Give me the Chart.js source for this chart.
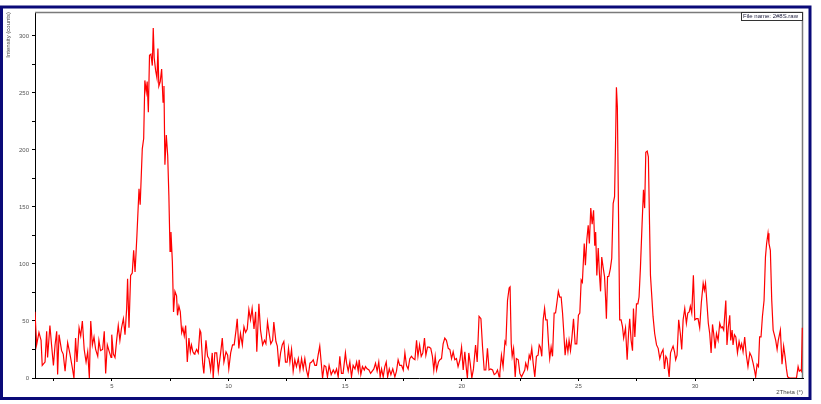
<!DOCTYPE html>
<html>
<head>
<meta charset="utf-8">
<script src="https://cdn.jsdelivr.net/npm/chart.js@4.4.1/dist/chart.umd.min.js"></script>
<style>
  html, body { margin: 0; padding: 0; background: #ffffff; }
  canvas { display: block; }
</style>
</head>
<body>
<canvas id="c" width="821" height="404"></canvas>
<script>
const legendLabel = 'File name: 2#8S.raw';
const xTitle = '2Theta (°)';
const yTitle = 'Intensity (counts)';
const xTickValues = [2.5, 5, 7.5, 10, 12.5, 15, 17.5, 20, 22.5, 25, 27.5, 30, 32.5];
const yTickValues = [0, 25, 50, 75, 100, 125, 150, 175, 200, 225, 250, 275, 300];

const twoTheta = [
  1.70,1.77,1.87,1.96,2.01,2.13,2.20,2.24,2.34,2.41,
  2.49,2.56,2.63,2.67,2.73,2.84,2.91,2.99,3.10,3.20,
  3.30,3.37,3.44,3.50,3.59,3.66,3.73,3.81,3.89,3.96,
  4.03,4.09,4.16,4.23,4.30,4.39,4.44,4.51,4.60,4.67,
  4.73,4.80,4.87,4.96,4.99,5.06,5.13,5.20,5.27,5.34,
  5.41,5.49,5.56,5.63,5.67,5.73,5.80,5.87,5.93,5.99,
  6.07,6.16,6.21,6.30,6.36,6.41,6.47,6.51,6.56,6.61,
  6.67,6.73,6.77,6.81,6.87,6.93,6.97,7.01,7.07,7.13,
  7.19,7.23,7.27,7.33,7.39,7.44,7.49,7.53,7.59,7.64,
  7.70,7.77,7.81,7.87,7.93,7.99,8.04,8.10,8.16,8.23,
  8.30,8.36,8.41,8.47,8.53,
  8.56,8.63,8.70,8.77,8.81,8.89,8.94,9.03,9.10,9.16,
  9.23,9.30,9.34,9.41,9.49,9.56,9.66,9.73,9.80,9.89,
  9.96,10.01,10.09,10.17,10.24,10.32,10.37,10.44,10.51,10.59,
  10.66,10.73,10.80,10.87,10.94,11.01,11.09,11.16,11.21,11.30,
  11.37,11.46,11.54,11.60,11.67,11.74,11.81,11.89,11.94,12.03,
  12.09,12.16,12.23,12.30,12.37,12.44,12.51,12.57,12.63,12.70,
  12.77,12.84,12.91,12.99,13.06,13.13,13.20,13.27,13.34,13.41,
  13.49,13.56,13.63,13.70,13.77,13.84,13.91,13.97,14.03,14.10,
  14.17,14.24,14.31,14.40,14.49,14.56,14.63,14.70,14.77,14.84,
  14.91,15.01,15.06,15.13,
  15.20,15.27,15.34,15.42,15.49,15.56,15.60,15.67,15.74,15.82,
  15.87,15.94,16.02,16.09,16.16,16.23,16.30,16.37,16.44,16.50,
  16.56,16.63,16.70,16.76,16.82,16.89,16.96,17.04,17.13,17.20,
  17.27,17.34,17.42,17.49,17.56,17.63,17.70,17.77,17.84,17.92,
  17.99,18.06,18.12,18.19,18.26,18.33,18.40,18.46,18.53,18.60,
  18.67,18.74,18.80,18.86,18.92,19.00,19.06,19.13,19.20,19.27,
  19.34,19.42,19.49,19.56,19.63,19.70,19.77,19.84,19.92,19.99,
  20.06,20.13,20.20,20.24,20.30,20.36,20.43,20.50,20.59,20.66,
  20.74,20.82,20.89,20.96,21.03,21.10,21.17,21.24,21.32,21.39,
  21.46,21.53,21.60,
  21.63,21.70,21.77,21.85,21.89,21.96,22.03,22.07,22.12,22.16,
  22.22,22.29,22.34,22.42,22.49,22.56,22.63,22.70,22.74,22.82,
  22.89,22.94,23.00,23.06,23.13,23.20,23.27,23.32,23.37,23.43,
  23.49,23.55,23.60,23.66,23.72,23.77,23.83,23.89,23.96,24.02,
  24.09,24.14,24.20,24.26,24.32,24.37,24.43,24.49,24.55,24.60,
  24.66,24.72,24.79,24.86,24.93,25.00,25.06,25.12,25.17,25.25,
  25.30,25.36,25.42,25.47,25.53,25.59,25.65,25.70,25.74,25.79,
  25.85,25.90,25.95,26.00,26.06,26.12,26.17,26.20,26.25,26.30,
  26.37,26.43,26.49,26.55,26.59,26.63,26.67,26.72,26.77,26.83,
  26.89,26.94,27.02,27.09,27.15,27.20,27.26,27.32,27.36,27.42,
  27.49,27.55,27.60,27.66,27.73,27.79,27.84,27.89,27.95,28.00,
  28.05,28.09,28.13,
  28.20,28.27,28.35,28.42,28.49,28.56,28.63,28.69,28.75,28.80,
  28.89,28.95,29.02,29.06,29.12,29.17,29.23,29.30,29.37,29.43,
  29.49,29.56,29.63,29.69,29.75,29.80,29.86,29.93,29.99,30.06,
  30.13,30.20,30.27,30.35,30.40,30.45,30.52,30.57,30.63,30.69,
  30.75,30.80,30.86,30.92,30.99,31.06,31.12,31.17,31.23,31.32,
  31.37,31.43,31.49,31.53,31.59,31.63,31.69,31.75,31.82,31.89,
  31.95,32.00,32.06,32.13,32.20,32.27,32.35,32.42,32.49,32.55,
  32.60,32.66,32.72,32.77,32.83,32.89,32.96,33.02,33.07,33.13,
  33.17,33.23,33.29,33.35,33.40,33.46,33.52,33.57,33.66,33.73,
  33.80,33.86,33.92,33.97,34.05,34.20,34.35,34.42,34.47,34.53,
  34.56,34.60
];

const intensity = [
  58,29,40,33,11,14,41,18,46,29,
  11,29,41,3,38,24,21,6,31,21,
  9,0,35,14,44,37,50,25,14,23,
  0,50,29,36,25,19,33,24,25,41,
  4,29,24,18,38,21,18,33,46,33,
  44,52,38,61,87,44,90,92,112,93,
  125,166,152,201,210,261,251,260,233,283,
  284,274,307,281,270,263,289,256,260,271,
  242,256,187,213,195,160,111,128,102,58,
  76,72,55,63,58,40,44,37,46,14,
  35,23,29,23,21,
  22,25,22,42,40,13,4,33,19,17,
  7,22,0,22,22,6,22,35,14,23,
  20,8,22,29,29,42,52,26,39,29,
  45,40,43,60,51,61,43,58,23,65,
  42,29,33,30,49,39,30,33,49,32,
  28,10,22,29,32,14,14,26,14,25,
  6,16,10,17,7,17,8,17,7,1,
  13,14,16,11,11,20,28,14,0,11,
  10,1,11,3,7,4,8,1,19,4,
  4,22,13,6,
  14,1,11,8,14,6,16,3,10,7,
  10,8,7,4,6,8,13,6,14,1,
  8,1,10,14,1,8,3,8,1,6,
  16,11,11,7,22,11,8,17,19,17,
  16,33,19,29,19,22,35,20,27,27,
  26,19,7,19,7,14,16,17,30,35,
  33,26,25,17,23,16,17,10,16,27,
  7,23,7,0,22,13,0,8,29,14,
  54,52,27,7,7,26,7,8,7,3,
  4,7,1,
  4,20,10,32,30,68,79,80,30,19,
  26,1,17,16,4,1,4,7,13,8,
  20,17,26,13,1,19,20,29,27,19,
  51,61,51,51,30,17,27,19,57,57,
  68,76,71,71,57,41,20,32,23,33,
  24,35,52,30,30,55,57,86,84,118,
  99,121,134,118,149,135,147,116,128,90,
  114,92,76,106,97,89,68,52,89,89,
  96,105,153,159,203,255,238,144,51,51,
  45,35,44,16,39,52,33,24,61,36,
  65,65,71,97,135,165,149,198,199,194,
  135,90,77,
  54,39,29,26,17,22,25,8,19,17,
  1,22,26,28,23,16,20,51,39,25,
  51,61,48,57,58,63,57,90,51,52,
  52,44,66,83,77,83,63,48,39,22,
  47,39,26,39,33,48,44,45,42,68,
  29,45,55,33,42,29,38,36,22,32,
  26,30,23,36,20,10,22,19,13,7,
  1,12,10,36,36,54,68,106,118,127,
  118,112,68,42,38,33,25,33,42,12,
  28,19,8,1,0,0,0,10,6,7,
  6,44
];

const FONT = 'Liberation Sans, Arial, sans-serif';
const points = twoTheta.map((x, i) => ({ x: x, y: intensity[i] }));

const framePlugin = {
  id: 'frame',
  beforeDatasetsDraw(chart) {
    const ctx = chart.ctx;
    const a = chart.chartArea;
    ctx.save();
    ctx.strokeStyle = '#7a7a7a';
    ctx.lineWidth = 1.5;
    ctx.beginPath();
    ctx.moveTo(a.left, a.top + 0.5);
    ctx.lineTo(a.right - 0.5, a.top + 0.5);
    ctx.lineTo(a.right - 0.5, a.bottom);
    ctx.stroke();
    ctx.restore();
  },
  afterDraw(chart) {
    const ctx = chart.ctx;
    const a = chart.chartArea;
    ctx.save();
    const bw = 62, bh = 8;
    const bx = a.right - bw, by = a.top;
    ctx.fillStyle = '#ffffff';
    ctx.fillRect(bx, by, bw, bh);
    ctx.strokeStyle = '#333333';
    ctx.lineWidth = 1;
    ctx.strokeRect(bx + 0.5, by + 0.5, bw - 1, bh);
    ctx.fillStyle = '#1a1a3a';
    ctx.font = '6px ' + FONT;
    ctx.textBaseline = 'middle';
    ctx.textAlign = 'left';
    ctx.fillText(legendLabel, bx + 2, by + bh / 2 + 0.5);
    ctx.strokeStyle = '#0a0a78';
    ctx.lineWidth = 3;
    ctx.strokeRect(1.5, 7, 808.5, 391.5);
    ctx.restore();
  }
};

new Chart(document.getElementById('c'), {
  type: 'line',
  data: {
    datasets: [{
      label: legendLabel,
      data: points,
      borderColor: '#ff0000',
      borderWidth: 1.2,
      pointRadius: 0,
      tension: 0,
      fill: false
    }]
  },
  options: {
    responsive: false,
    animation: false,
    layout: { padding: { left: 0, top: 12, right: 18, bottom: 0 } },
    plugins: { legend: { display: false }, tooltip: { enabled: false } },
    scales: {
      x: {
        type: 'linear',
        min: 1.70,
        max: 34.63,
        afterBuildTicks: (axis) => { axis.ticks = xTickValues.map(v => ({ value: v })); },
        afterFit: (s) => { s.height = 26; },
        grid: { drawOnChartArea: false, tickLength: 3, tickColor: '#000' },
        border: { color: '#000', width: 1 },
        ticks: {
          autoSkip: false, maxRotation: 0, padding: 2, color: '#555',
          font: { size: 6, family: FONT },
          callback: (v) => (v % 5 === 0 ? String(v) : '')
        },
        title: {
          display: true, text: xTitle, align: 'end', color: '#444',
          font: { size: 6, family: FONT }, padding: { top: 0, bottom: 8 }
        }
      },
      y: {
        type: 'linear',
        min: 0,
        max: 321,
        afterBuildTicks: (axis) => { axis.ticks = yTickValues.map(v => ({ value: v })); },
        afterFit: (s) => { s.width = 35; },
        grid: { drawOnChartArea: false, tickLength: 3, tickColor: '#000' },
        border: { color: '#000', width: 1 },
        ticks: {
          autoSkip: false, padding: 3, color: '#555',
          font: { size: 6, family: FONT },
          callback: (v) => (v % 50 === 0 ? String(v) : '')
        },
        title: {
          display: true, text: yTitle, align: 'end', color: '#444',
          font: { size: 6, family: FONT }, padding: { top: 4.4, bottom: 0 }
        }
      }
    }
  },
  plugins: [framePlugin]
});
</script>
</body>
</html>
